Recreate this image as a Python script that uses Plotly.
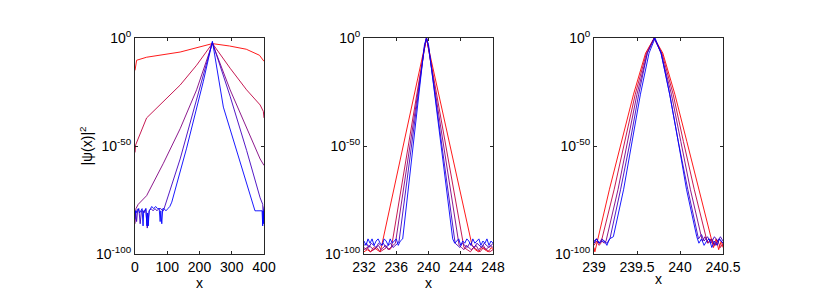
import plotly.graph_objects as go

COLORS = ["#ff0000", "#bf0040", "#800080", "#4000bf", "#0000ff"]

# ---------------- Panel 1 (x in 0..400), values are log10 |psi|^2
p1_x1 = [0, 2, 5, 36, 140, 240, 293, 345, 386, 400]
p1_y1 = [-15, -12, -10.3, -8.9, -6.5, -2.6, -3.7, -5.2, -8, -10.8]
p1_x2 = [0, 2, 36, 88, 140, 191, 240, 295, 346, 388, 398, 400]
p1_y2 = [-53, -49.5, -37, -29.5, -21.8, -12.6, -2.5, -14, -24, -31, -34, -37]
p1_x3 = [0, 1, 3, 10, 36, 88, 140, 191, 240, 295, 346, 388, 400]
p1_y3 = [-86, -80, -79, -77, -73, -58, -42, -24, -2.5, -24, -42, -56, -59]
p1_x4 = [0, 2, 5, 8, 12, 16, 20, 24, 28, 33, 38, 44, 50, 56, 62, 68, 74, 80, 86, 88,
         140, 191, 240, 295, 346, 388, 396, 398, 400]
p1_y4 = [-82, -80, -85, -80, -79, -86, -80, -80, -81, -79, -88, -80, -79, -80, -79, -80, -79, -79, -80, -80,
         -56, -28, -2, -27, -52, -74, -77, -84, -78]
p1_x5 = [0, 1, 3, 6, 10, 14, 18, 22, 25, 27, 30, 34, 37, 39, 41, 44, 48, 52, 58, 64, 70, 75, 78, 80, 83, 86,
         90, 96, 102, 108, 114, 160, 212, 240, 274, 326, 367, 372, 378, 384, 390, 394, 396, 397, 398, 400]
p1_y5 = [-84, -80, -81, -80, -79, -81, -80, -79, -87, -80, -80, -79, -87, -81, -87, -80, -79, -78, -79, -78,
         -79, -79, -85, -80, -86, -79, -79, -80, -79, -78, -76, -51, -20, -1.5, -32, -58, -78, -80, -80, -80,
         -80, -80, -87, -80, -86, -79]

# ---------------- Panel 2 (x in 232..248)
p2_x1 = [232.0, 232.4, 232.8, 233.2, 233.6, 234.0, 234.2, 239.3, 239.75, 240.2,
         245.4, 245.8, 246.2, 246.6, 247.0, 247.4, 247.8, 248.0]
p2_y1 = [-99, -98, -99, -97, -98, -99, -96, -8, 0, -8, -96, -98, -99, -97, -98, -99, -97, -98]
p2_x2 = [232.0, 232.4, 232.8, 233.2, 233.6, 234.0, 234.4, 234.8, 235.2, 235.4, 239.4, 239.75, 240.1,
         244.4, 244.8, 245.2, 245.6, 246.0, 246.4, 246.8, 247.2, 247.6, 248.0]
p2_y2 = [-98, -97, -99, -98, -97, -99, -98, -97, -98, -97, -7, 0, -7,
         -97, -98, -99, -97, -98, -99, -97, -98, -99, -98]
p2_x3 = [232.0, 232.3, 232.6, 232.9, 233.2, 233.5, 233.8, 234.1, 234.4, 234.7, 235.0, 235.3, 235.6, 235.9,
         239.45, 239.75, 240.05,
         243.8, 244.1, 244.4, 244.7, 245.0, 245.3, 245.6, 245.9, 246.2, 246.5, 246.8, 247.1, 247.4, 247.7, 248.0]
p2_y3 = [-97, -98, -96, -97, -98, -97, -96, -98, -97, -96, -98, -97, -96, -95,
         -6, 0, -6,
         -96, -97, -98, -96, -97, -98, -97, -96, -98, -97, -96, -98, -97, -96, -97]
p2_x4 = [232.0, 232.3, 232.6, 232.9, 233.2, 233.5, 233.8, 234.1, 234.4, 234.7, 235.0, 235.3, 235.6, 235.9,
         236.2, 236.35, 239.5, 239.75, 240.0,
         243.3, 243.6, 243.9, 244.2, 244.5, 244.8, 245.1, 245.4, 245.7, 246.0, 246.3, 246.6, 246.9, 247.2,
         247.5, 247.8, 248.0]
p2_y4 = [-96, -95, -97, -95, -96, -97, -95, -96, -95, -97, -96, -95, -97, -96, -95, -94, -4, 0, -4,
         -95, -96, -97, -95, -96, -97, -95, -96, -97, -95, -96, -97, -95, -96, -97, -96, -95]
p2_x5 = [232.0, 232.25, 232.5, 232.75, 233.0, 233.25, 233.5, 233.75, 234.0, 234.25, 234.5, 234.75, 235.0,
         235.25, 235.5, 235.75, 236.0, 236.25, 236.5, 236.8, 239.5, 239.75, 240.0,
         243.0, 243.25, 243.5, 243.75, 244.0, 244.25, 244.5, 244.75, 245.0, 245.25, 245.5, 245.75, 246.0,
         246.25, 246.5, 246.75, 247.0, 247.25, 247.5, 247.75, 248.0]
p2_y5 = [-94, -96, -93, -95, -93, -96, -94, -93, -95, -96, -93, -94, -96, -93, -95, -94, -93, -96, -94, -93,
         -3, 0, -3,
         -93, -95, -94, -93, -96, -94, -95, -93, -94, -96, -93, -95, -94, -93, -96, -94, -95, -93, -96, -94, -95]

# ---------------- Panel 3 (x in 239..240.5)
p3_x1 = [239.0, 239.01, 239.18, 239.32, 239.46, 239.60, 239.70, 239.80, 239.94, 240.08, 240.22, 240.39,
         240.42, 240.45, 240.48, 240.5]
p3_y1 = [-97, -99, -70, -48, -26, -7, 0, -7, -26, -48, -70, -97, -93, -98, -94, -97]
p3_x2 = [239.0, 239.03, 239.06, 239.08, 239.235, 239.36, 239.48, 239.61, 239.70, 239.79, 239.92, 240.04,
         240.165, 240.32, 240.36, 240.40, 240.44, 240.47, 240.5]
p3_y2 = [-96, -94, -96, -95, -70, -48, -26, -7, 0, -7, -26, -48, -70, -95, -93, -96, -94, -97, -95]
p3_x3 = [239.0, 239.03, 239.06, 239.09, 239.12, 239.14, 239.28, 239.39, 239.50, 239.62, 239.70, 239.78,
         239.90, 240.01, 240.12, 240.26, 240.29, 240.33, 240.37, 240.41, 240.45, 240.5]
p3_y3 = [-95, -93, -95, -94, -95, -94, -70, -48, -26, -7, 0, -7, -26, -48, -70, -94, -92, -95, -93, -96, -93, -95]
p3_x4 = [239.0, 239.03, 239.06, 239.09, 239.12, 239.15, 239.185, 239.31, 239.42, 239.52, 239.62, 239.70,
         239.78, 239.88, 239.98, 240.09, 240.215, 240.25, 240.28, 240.32, 240.36, 240.40, 240.44, 240.47, 240.5]
p3_y4 = [-94, -93, -95, -93, -94, -95, -93, -70, -48, -26, -7, 0, -7, -26, -48, -70, -93, -91, -94, -92,
         -95, -92, -94, -92, -94]
p3_x5 = [239.0, 239.03, 239.06, 239.09, 239.12, 239.15, 239.18, 239.225, 239.345, 239.44, 239.54, 239.64,
         239.71, 239.78, 239.88, 239.98, 240.075, 240.195, 240.22, 240.25, 240.28, 240.31, 240.34, 240.37,
         240.40, 240.43, 240.46, 240.5]
p3_y5 = [-95, -93, -95, -94, -94, -96, -93, -92, -70, -48, -26, -7, 0, -7, -26, -48, -70, -92, -95, -93,
         -96, -94, -93, -97, -94, -96, -93, -95]

panels = [
    [(p1_x1, p1_y1), (p1_x2, p1_y2), (p1_x3, p1_y3), (p1_x4, p1_y4), (p1_x5, p1_y5)],
    [(p2_x1, p2_y1), (p2_x2, p2_y2), (p2_x3, p2_y3), (p2_x4, p2_y4), (p2_x5, p2_y5)],
    [(p3_x1, p3_y1), (p3_x2, p3_y2), (p3_x3, p3_y3), (p3_x4, p3_y4), (p3_x5, p3_y5)],
]

x_ticks = [[0, 100, 200, 300, 400], [232, 236, 240, 244, 248], [239, 239.5, 240, 240.5]]
x_ticktext = [["0", "100", "200", "300", "400"], ["232", "236", "240", "244", "248"],
              ["239", "239.5", "240", "240.5"]]
x_ranges = [[0, 400], [232, 248], [239, 240.5]]
y_tickvals = [1e-100, 1e-50, 1]
y_ticktext = ["10<sup>-100</sup>", "10<sup>-50</sup>", "10<sup>0</sup>"]

W, H = 822, 304
OFF = 8  # page body margin
x_domains = [[(135 - OFF) / W, (264 - OFF) / W], [(364 - OFF) / W, (493 - OFF) / W],
             [(594 - OFF) / W, (723 - OFF) / W]]
y_domain = [1 - (254 - OFF) / H, 1 - (38 - OFF) / H]

fig = go.Figure()
for i, curves in enumerate(panels):
    xa = "x" if i == 0 else f"x{i+1}"
    ya = "y" if i == 0 else f"y{i+1}"
    for (xs, ys), c in zip(curves, COLORS):
        fig.add_trace(go.Scatter(x=xs, y=[10 ** v for v in ys], mode="lines",
                                 line=dict(color=c, width=0.9), xaxis=xa, yaxis=ya,
                                 showlegend=False, hoverinfo="skip"))

axis_common = dict(showline=True, linecolor="#262626", linewidth=1, mirror="ticks",
                   ticks="inside", ticklen=3, tickcolor="#262626", showgrid=False,
                   zeroline=False, automargin=False, tickfont=dict(size=14, color="black"))

layout = dict(width=W, height=H, autosize=False, margin=dict(l=0, r=0, t=0, b=0, pad=0),
              paper_bgcolor="white", plot_bgcolor="white",
              font=dict(family="Liberation Sans, Arial, sans-serif", size=14, color="black"))
for i in range(3):
    k = "" if i == 0 else str(i + 1)
    layout[f"xaxis{k}"] = dict(domain=x_domains[i], range=x_ranges[i], tickvals=x_ticks[i],
                               ticktext=x_ticktext[i], anchor=f"y{k}",
                               title=dict(text="x", font=dict(size=14), standoff=0), **axis_common)
    ya = dict(domain=y_domain, type="log", range=[-100, 0], tickvals=y_tickvals,
              ticktext=y_ticktext, anchor=f"x{k}", **axis_common)
    if i == 0:
        ya["title"] = dict(text="|ψ(x)|<sup>2</sup>", font=dict(size=14), standoff=0)
    layout[f"yaxis{k}"] = ya

fig.update_layout(**layout)
fig.write_html("out.html")
